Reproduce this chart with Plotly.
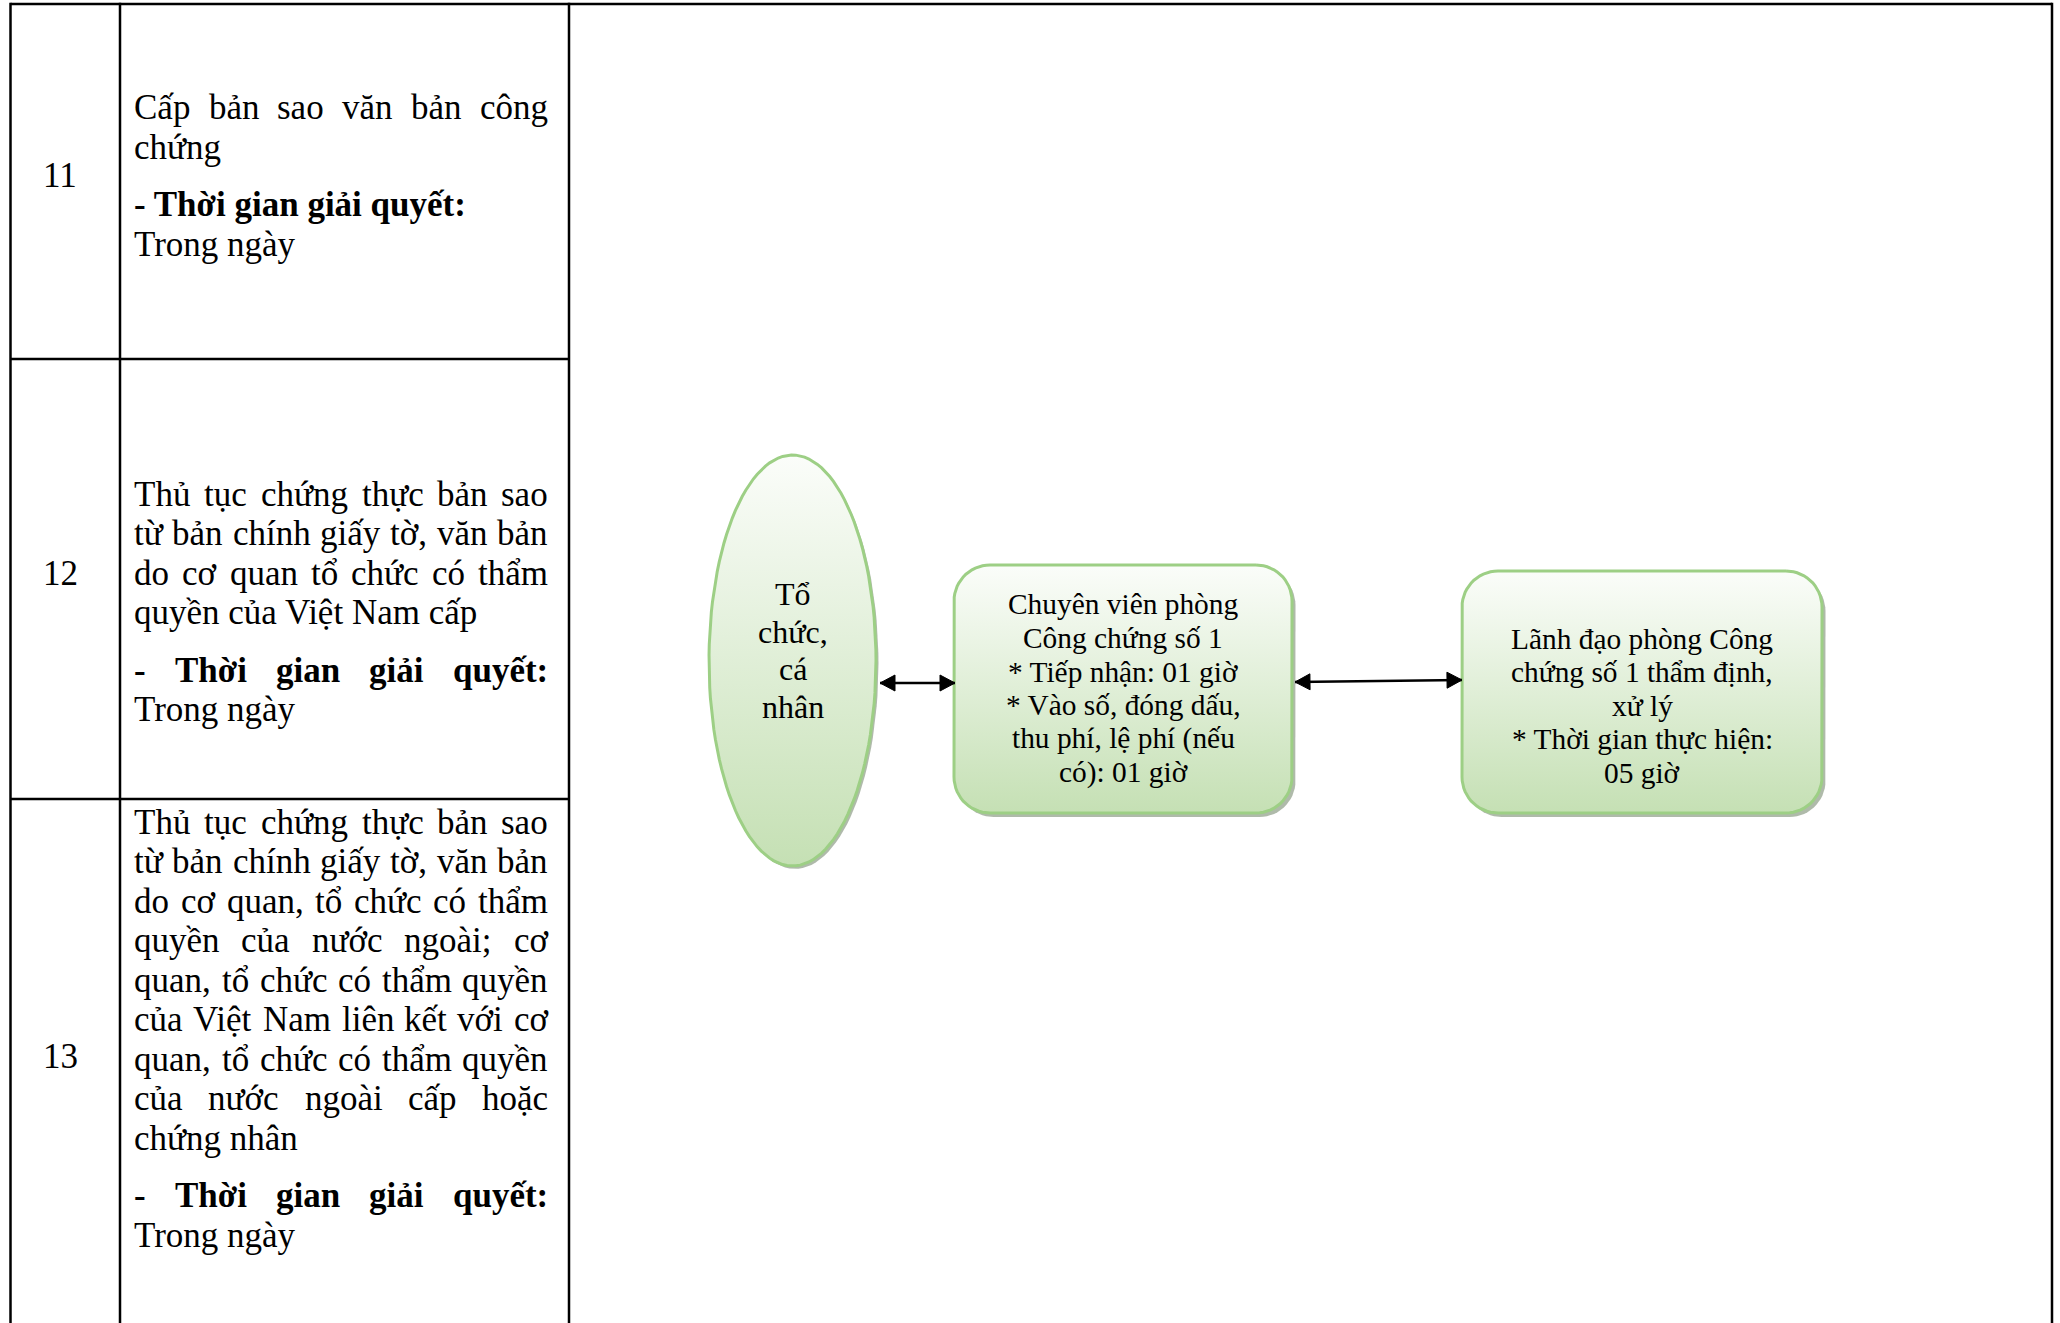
import unicodedata
import numpy as np
import plotly.graph_objects as go

# ---------------- data (text content) ----------------
row_numbers = ["11", "12", "13"]
procedure_lines = [
    ["Cấp bản sao văn bản công", "chứng"],
    ["Thủ tục chứng thực bản sao", "từ bản chính giấy tờ, văn bản",
     "do cơ quan tổ chức có thẩm", "quyền của Việt Nam cấp"],
    ["Thủ tục chứng thực bản sao", "từ bản chính giấy tờ, văn bản",
     "do cơ quan, tổ chức có thẩm", "quyền của nước ngoài; cơ",
     "quan, tổ chức có thẩm quyền", "của Việt Nam liên kết với cơ",
     "quan, tổ chức có thẩm quyền", "của nước ngoài cấp hoặc", "chứng nhân"],
]
time_label = "- Thời gian giải quyết:"
time_value = "Trong ngày"
time_label_justified = [False, True, True]

actor_lines = ["Tổ", "chức,", "cá", "nhân"]
step1_lines = ["Chuyên viên phòng", "Công chứng số 1", "* Tiếp nhận: 01 giờ",
               "* Vào số, đóng dấu,", "thu phí, lệ phí (nếu", "có): 01 giờ"]
step2_lines = ["Lãnh đạo phòng Công", "chứng số 1 thẩm định,", "xử lý",
               "* Thời gian thực hiện:", "05 giờ"]

# ---------------- layout geometry ----------------
W, H = 2060, 1323
FONT = "Liberation Serif"
TABLE_X = [10.5, 120, 569, 2052]
TABLE_TOP = 4
ROW_LINES = [359, 799]
TEXT_L, TEXT_R = 133, 547
FS = 35
LINE_H = 39.5
PARA_GAP = 57.5
row_text_start = [107.7, 494, 822.4]
row_num_y = [175, 573, 1056]
NUM_X = 60

BORDER = "#9dcf85"
FILL_TOP = "#fbfdfa"
FILL_BOT = "#c5e0b4"
SHADOW = "rgba(110,130,100,0.55)"

ELL = dict(cx=792.5, cy=660.5, rx=83.5, ry=205.5)
BOX1 = (954, 565, 1292, 813)
BOX2 = (1462, 571, 1822, 813)
RADIUS = 36

# Times/Liberation Serif advance widths (1/1000 em)
REG = {' ': 250, 'a': 444, 'b': 500, 'c': 444, 'd': 500, 'e': 444, 'f': 333, 'g': 500,
       'h': 500, 'i': 278, 'j': 278, 'k': 500, 'l': 278, 'm': 778, 'n': 500, 'o': 500,
       'p': 500, 'q': 500, 'r': 333, 's': 389, 't': 278, 'u': 500, 'v': 500, 'w': 722,
       'x': 500, 'y': 500, 'z': 444, 'C': 667, 'L': 611, 'N': 722, 'T': 611, 'V': 722,
       ',': 250, '.': 250, ':': 278, ';': 278, '-': 333, '(': 333, ')': 333, '*': 500}
BOLD = {' ': 250, 'a': 500, 'b': 556, 'c': 444, 'd': 556, 'e': 444, 'g': 500, 'h': 556,
        'i': 278, 'l': 278, 'n': 556, 'o': 500, 'q': 556, 'r': 444, 's': 389, 't': 333,
        'u': 556, 'y': 500, 'T': 667, '-': 333, ':': 333}


def text_width(s, size, bold=False):
    tbl = BOLD if bold else REG
    total = 0
    for ch in s:
        base = unicodedata.normalize("NFD", ch)
        horn = "\u031b" in base
        b = base[0]
        if b == "đ":
            b = "d"
        w = tbl.get(b, REG.get(b, 500))
        if horn:
            w += 40
        total += w
    return total * size / 1000.0


fig = go.Figure()


def add_text(x, y, text, size, bold=False, anchor="left"):
    fig.add_annotation(x=x, y=y, text=("<b>%s</b>" % text) if bold else text,
                       showarrow=False, xanchor=anchor, yanchor="middle",
                       borderpad=0, font=dict(family=FONT, size=size, color="black"))


def add_line_text(y, text, justify, bold=False):
    words = text.split(" ")
    if not justify or len(words) < 2:
        add_text(TEXT_L, y, text, FS, bold)
        return
    ws = [text_width(w, FS, bold) for w in words]
    gap = (TEXT_R - TEXT_L - sum(ws)) / (len(words) - 1)
    x = TEXT_L
    for w, wd in zip(words, ws):
        add_text(x, y, w, FS, bold)
        x += wd + gap


# ---------------- table ----------------
for x in TABLE_X:
    fig.add_shape(type="line", x0=x, x1=x, y0=TABLE_TOP - 1.2, y1=H + 5,
                  line=dict(color="black", width=2.5))
fig.add_shape(type="line", x0=TABLE_X[0], x1=TABLE_X[-1], y0=TABLE_TOP, y1=TABLE_TOP,
              line=dict(color="black", width=2.5))
for y in ROW_LINES:
    fig.add_shape(type="line", x0=TABLE_X[0], x1=TABLE_X[2], y0=y, y1=y,
                  line=dict(color="black", width=2.5))

for i, num in enumerate(row_numbers):
    add_text(NUM_X, row_num_y[i], num, FS, anchor="center")
    y = row_text_start[i]
    lines = procedure_lines[i]
    for j, ln in enumerate(lines):
        add_line_text(y, ln, justify=(j < len(lines) - 1))
        y += LINE_H
    y += PARA_GAP - LINE_H
    add_line_text(y, time_label, time_label_justified[i], bold=True)
    y += LINE_H
    add_line_text(y, time_value, False)


# ---------------- diagram shapes ----------------
def rounded_rect(x0, y0, x1, y1, r, n=16):
    xs, ys = [], []
    corners = [(x1 - r, y0 + r, -90, 0), (x1 - r, y1 - r, 0, 90),
               (x0 + r, y1 - r, 90, 180), (x0 + r, y0 + r, 180, 270)]
    for cx, cy, a0, a1 in corners:
        t = np.radians(np.linspace(a0, a1, n))
        xs.extend(cx + r * np.cos(t))
        ys.extend(cy + r * np.sin(t))
    xs.append(xs[0])
    ys.append(ys[0])
    return np.array(xs), np.array(ys)


def ellipse(cx, cy, rx, ry, n=120):
    t = np.linspace(0, 2 * np.pi, n)
    return cx + rx * np.cos(t), cy + ry * np.sin(t)


def add_node(xs, ys, shadow=(3.5, 4)):
    fig.add_trace(go.Scatter(x=xs + shadow[0], y=ys + shadow[1], fill="toself", mode="lines",
                             line=dict(width=0), fillcolor=SHADOW, hoverinfo="skip",
                             showlegend=False))
    fig.add_trace(go.Scatter(x=xs, y=ys, fill="toself", mode="lines",
                             line=dict(color=BORDER, width=3),
                             fillgradient=dict(type="vertical",
                                               colorscale=[[0, FILL_BOT], [1, FILL_TOP]]),
                             hoverinfo="skip", showlegend=False))


ex, ey = ellipse(**ELL)
add_node(ex, ey, shadow=(2.5, 3))
for b in (BOX1, BOX2):
    bx, by = rounded_rect(*b, RADIUS)
    add_node(bx, by)


def arrow(x0, y0, x1, y1, head_len=15, head_w=8):
    fig.add_shape(type="line", x0=x0, y0=y0, x1=x1, y1=y1,
                  line=dict(color="black", width=2.5))
    d = np.array([x1 - x0, y1 - y0], float)
    d /= np.linalg.norm(d)
    nrm = np.array([-d[1], d[0]])
    for tip, dirv in ((np.array([x1, y1]), d), (np.array([x0, y0]), -d)):
        base = tip - dirv * head_len
        p1 = base + nrm * head_w
        p2 = base - nrm * head_w
        fig.add_trace(go.Scatter(x=[tip[0], p1[0], p2[0], tip[0]],
                                 y=[tip[1], p1[1], p2[1], tip[1]],
                                 fill="toself", mode="lines", fillcolor="black",
                                 line=dict(color="black", width=1), hoverinfo="skip",
                                 showlegend=False))


arrow(ELL["cx"] + ELL["rx"] + 4, 683, BOX1[0] + 1, 683)
arrow(BOX1[2] + 3, 682, BOX2[0], 680)

# node texts
for k, t in enumerate(actor_lines):
    add_text(ELL["cx"], 594 + k * 37.7, t, 32, anchor="center")
cx1 = (BOX1[0] + BOX1[2]) / 2
for k, t in enumerate(step1_lines):
    add_text(cx1, 604.4 + k * 33.6, t, 29.4, anchor="center")
cx2 = (BOX2[0] + BOX2[2]) / 2
for k, t in enumerate(step2_lines):
    add_text(cx2, 638.5 + k * 33.6, t, 29.4, anchor="center")

fig.update_layout(
    width=W, height=H, margin=dict(l=0, r=0, t=0, b=0),
    paper_bgcolor="white", plot_bgcolor="white",
    xaxis=dict(range=[0, W], visible=False, fixedrange=True),
    yaxis=dict(range=[H, 0], visible=False, fixedrange=True),
    showlegend=False,
)

fig.write_html("out.html", config={"displayModeBar": False},
               post_script="document.body.style.margin='0';document.body.style.overflow='hidden';")
